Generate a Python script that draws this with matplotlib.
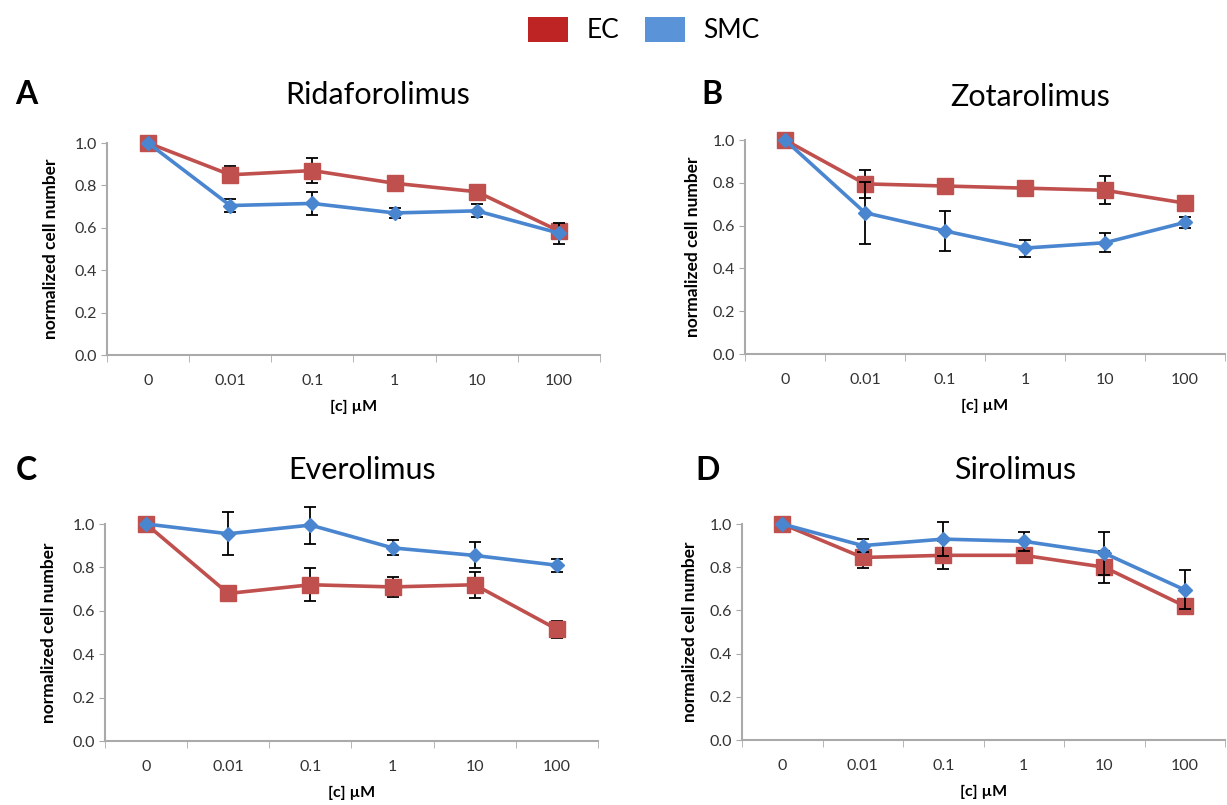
import numpy as np
import matplotlib
matplotlib.use('Agg')
from matplotlib import pyplot as plt
from matplotlib.patches import Patch

plt.rcParams['font.family'] = ['Lato', 'DejaVu Sans']

conc = ['0', '0.01', '0.1', '1', '10', '100']

drugs = ['Ridaforolimus', 'Zotarolimus', 'Everolimus', 'Sirolimus']
letters = ['A', 'B', 'C', 'D']

ec_mean = [
    [1.0, 0.85, 0.87, 0.81, 0.77, 0.585],
    [1.0, 0.795, 0.785, 0.775, 0.765, 0.705],
    [1.0, 0.68, 0.72, 0.71, 0.72, 0.515],
    [1.0, 0.845, 0.855, 0.855, 0.80, 0.62],
]
ec_err = [
    [0.0, 0.04, 0.06, 0.02, 0.03, 0.02],
    [0.0, 0.065, 0.02, 0.02, 0.065, 0.02],
    [0.0, 0.01, 0.075, 0.045, 0.06, 0.04],
    [0.0, 0.05, 0.065, 0.03, 0.075, 0.01],
]
smc_mean = [
    [1.0, 0.705, 0.715, 0.67, 0.68, 0.575],
    [1.0, 0.66, 0.575, 0.495, 0.52, 0.615],
    [1.0, 0.955, 0.995, 0.89, 0.855, 0.81],
    [1.0, 0.90, 0.93, 0.92, 0.865, 0.695],
]
smc_err = [
    [0.0, 0.03, 0.055, 0.025, 0.03, 0.05],
    [0.0, 0.145, 0.095, 0.04, 0.045, 0.025],
    [0.0, 0.1, 0.085, 0.035, 0.06, 0.03],
    [0.0, 0.03, 0.08, 0.045, 0.1, 0.09],
]

RED = '#c0504d'
BLUE = '#4a86d0'

W, H = 1227, 805
fig = plt.figure(figsize=(W / 100, H / 100), dpi=100)

# axes boxes in pixels: left, right, top(1.0), bottom(0.0)
boxes = [(107, 600, 143, 355), (745, 1225, 140, 354),
         (105, 598, 524, 741), (742, 1225, 524, 740)]
titles_xy = [(378, 95), (1030, 97), (362, 470), (1015, 470)]
letters_xy = [(26, 95), (712, 95), (26, 470), (708, 470)]
ylabel_pads = [11, 8, 11, 8]

x = np.arange(len(conc))

for i in range(4):
    l, r, t, b = boxes[i]
    ax = fig.add_axes([l / W, 1 - b / H, (r - l) / W, (b - t) / H])
    ax.errorbar(x, ec_mean[i], yerr=ec_err[i], color=RED, lw=2.6, marker='s',
                markersize=11, ecolor='black', elinewidth=1.3, capsize=4,
                capthick=1.3, clip_on=False, zorder=3)
    ax.errorbar(x, smc_mean[i], yerr=smc_err[i], color=BLUE, lw=2.6, marker='D',
                markersize=7.5, ecolor='black', elinewidth=1.3, capsize=4,
                capthick=1.3, clip_on=False, zorder=4)
    ax.set_xlim(-0.5, 5.5)
    ax.set_ylim(0, 1.0)
    ax.set_yticks(np.arange(0, 1.01, 0.2))
    ax.set_yticklabels([f'{v:.1f}' for v in np.arange(0, 1.01, 0.2)])
    ax.set_xticks(x)
    ax.set_xticklabels(conc)
    ax.set_xticks(np.arange(-0.5, 5.6, 1), minor=True)
    ax.tick_params(axis='x', which='major', length=0, pad=14, labelsize=11.5, labelcolor='#333333')
    ax.tick_params(axis='x', which='minor', length=5, color='#aaaaaa')
    ax.tick_params(axis='y', length=4, color='#aaaaaa', labelsize=11.5, labelcolor='#333333')
    for s in ['top', 'right']:
        ax.spines[s].set_visible(False)
    for s in ['left', 'bottom']:
        ax.spines[s].set_color('#aaaaaa')
        ax.spines[s].set_linewidth(1.5)
    ax.set_ylabel('normalized cell number', fontsize=12.5, fontweight='bold',
                  labelpad=ylabel_pads[i])
    ax.set_xlabel('[c] µM', fontsize=11.5, fontweight='bold', labelpad=8)

    tx, ty = titles_xy[i]
    fig.text(tx / W, 1 - ty / H, drugs[i], fontsize=22, ha='center', va='center')
    lx, ly = letters_xy[i]
    fig.text(lx / W, 1 - ly / H, letters[i], fontsize=23, fontweight='bold',
             ha='center', va='center')

handles = [Patch(facecolor='#be2424', edgecolor='none', label='EC'),
           Patch(facecolor='#5b93d8', edgecolor='none', label='SMC')]
fig.legend(handles=handles, loc='center', bbox_to_anchor=(644 / W, 1 - 30 / H),
           ncol=2, frameon=False, fontsize=19, handlelength=1.5, handleheight=1.1,
           columnspacing=1.0, handletextpad=0.7)

fig.savefig('out.png', dpi=100)
